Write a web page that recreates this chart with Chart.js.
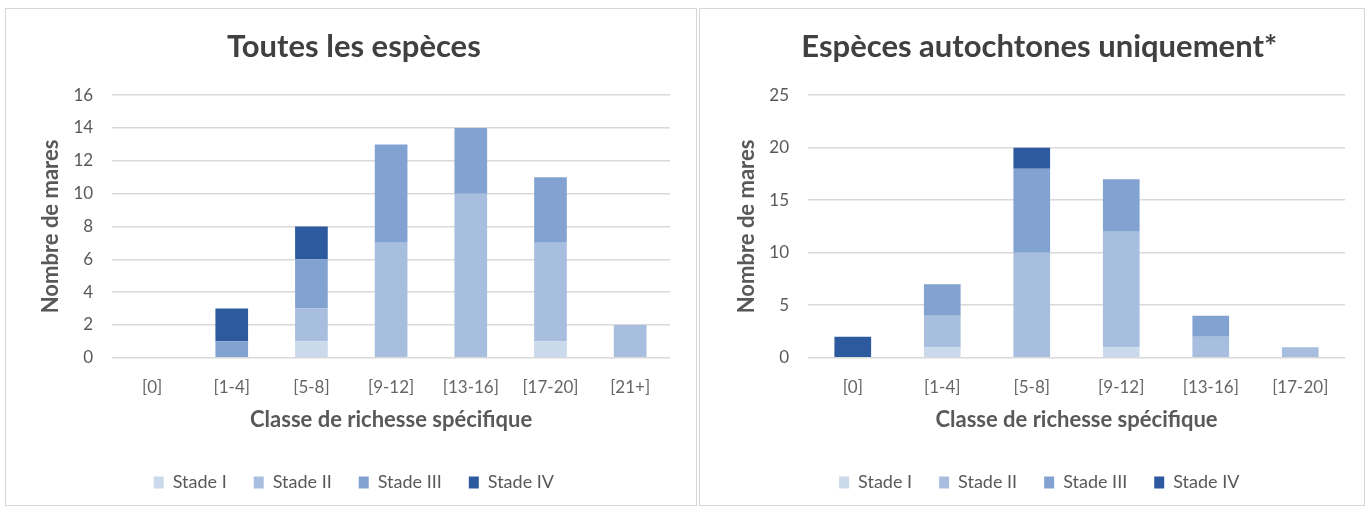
<!DOCTYPE html>
<html lang="fr">
<head>
<meta charset="utf-8">
<script src="https://cdn.jsdelivr.net/npm/chart.js@4.4.1/dist/chart.umd.min.js"></script>
<style>
  html, body { margin: 0; padding: 0; background: #ffffff; }
  body { width: 1370px; height: 510px; position: relative; overflow: hidden; }
  .panel { position: absolute; top: 8px; height: 496px; border: 1.5px solid #d6d6d6; background: #fff; }
  #p1 { left: 5px; width: 690px; }
  #p2 { left: 699px; width: 664px; }
  canvas { display: block; }
</style>
</head>
<body>
<div class="panel" id="p1"><canvas id="c1" width="690" height="496"></canvas></div>
<div class="panel" id="p2"><canvas id="c2" width="664" height="496"></canvas></div>
<script>
// Classes de richesse et nombre de mares par stade
const categoriesToutes = ['[0]', '[1-4]', '[5-8]', '[9-12]', '[13-16]', '[17-20]', '[21+]'];
const toutesStadeI   = [0, 0, 1, 0, 0, 1, 0];
const toutesStadeII  = [0, 0, 2, 7, 10, 6, 2];
const toutesStadeIII = [0, 1, 3, 6, 4, 4, 0];
const toutesStadeIV  = [0, 2, 2, 0, 0, 0, 0];

const categoriesAutochtones = ['[0]', '[1-4]', '[5-8]', '[9-12]', '[13-16]', '[17-20]'];
const autoStadeI   = [0, 1, 0, 1, 0, 0];
const autoStadeII  = [0, 3, 10, 11, 2, 1];
const autoStadeIII = [0, 3, 8, 5, 2, 0];
const autoStadeIV  = [2, 0, 2, 0, 0, 0];

const stadeLabels = ['Stade I', 'Stade II', 'Stade III', 'Stade IV'];
const stadeColors = ['#cbd9ec', '#a8bedf', '#82a3d1', '#2d5a9f'];

const TEXT = '#595959';
const FONT = 'Lato, "Open Sans", sans-serif';

function buildChart(canvasId, title, labels, series, yMax, yStep, padLeft, padRight) {
  const datasets = series.map((values, i) => ({
    label: stadeLabels[i],
    data: values,
    backgroundColor: stadeColors[i],
    borderWidth: 0,
    barPercentage: 0.82,
    categoryPercentage: 0.5
  }));
  return new Chart(document.getElementById(canvasId), {
    type: 'bar',
    data: { labels, datasets },
    options: {
      responsive: false,
      animation: false,
      layout: { padding: { left: padLeft, right: padRight, top: 0, bottom: 3.5 } },
      plugins: {
        title: {
          display: true,
          text: title,
          color: '#404040',
          font: { family: FONT, size: 31, weight: 'bold' },
          padding: { top: 19, bottom: 30 }
        },
        legend: {
          display: true,
          position: 'bottom',
          labels: {
            color: TEXT,
            font: { family: FONT, size: 18 },
            boxWidth: 10,
            boxHeight: 12,
            padding: 27
          }
        },
        tooltip: { enabled: false }
      },
      scales: {
        x: {
          stacked: true,
          grid: { display: false, drawTicks: false },
          border: { display: false },
          ticks: { color: '#666666', font: { family: FONT, size: 17 }, padding: 20 },
          title: {
            display: true,
            text: 'Classe de richesse spécifique',
            color: TEXT,
            font: { family: FONT, size: 22, weight: 'bold' },
            padding: { top: -11.5, bottom: 13.5 }
          }
        },
        y: {
          stacked: true,
          min: 0,
          max: yMax,
          grid: { color: '#d9d9d9', lineWidth: 1.5, drawTicks: false },
          border: { display: false },
          ticks: { stepSize: yStep, color: TEXT, font: { family: FONT, size: 17 }, padding: 19 },
          title: {
            display: true,
            text: 'Nombre de mares',
            color: TEXT,
            font: { family: FONT, size: 22, weight: 'bold' },
            padding: { top: 0, bottom: -9.6 }
          }
        }
      }
    }
  });
}

buildChart('c1', 'Toutes les espèces', categoriesToutes,
  [toutesStadeI, toutesStadeII, toutesStadeIII, toutesStadeIV], 16, 2, 31.7, 26);
buildChart('c2', 'Espèces autochtones uniquement*', categoriesAutochtones,
  [autoStadeI, autoStadeII, autoStadeIII, autoStadeIV], 25, 5, 33.5, 19);
</script>
</body>
</html>
